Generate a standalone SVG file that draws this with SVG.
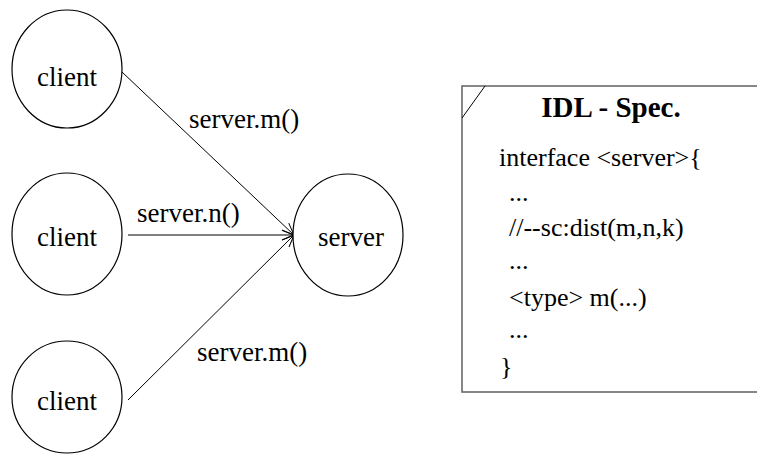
<svg xmlns="http://www.w3.org/2000/svg" width="757" height="460" viewBox="0 0 757 460">
  <style>
    .node { fill: #fff; stroke: #000; stroke-width: 1.2; }
    .lbl { font-size: 27px; }
    .conn { stroke: #000; stroke-width: 1; fill: none; marker-end: url(#arrow); }
    .spec { fill: #fff; stroke: #6a6a6a; stroke-width: 1.6; }
    .code { font-size: 26px; }
    .title { font-size: 29px; font-weight: bold; }
  </style>
  <defs>
    <marker id="arrow" markerWidth="14" markerHeight="12" refX="13" refY="6" orient="auto" markerUnits="userSpaceOnUse">
      <path d="M1,1 L13,6 L1,11" fill="none" stroke="#000" stroke-width="1"/>
    </marker>
  </defs>

  <g font-family="Liberation Serif, serif" fill="#000">
    <!-- connectors -->
    <g id="connectors">
      <line class="conn" x1="122" y1="72" x2="294" y2="235"/>
      <line class="conn" x1="128" y1="235" x2="294" y2="235"/>
      <line class="conn" x1="128" y1="400" x2="294" y2="235"/>
      <text class="lbl" x="189" y="128">server.m()</text>
      <text class="lbl" x="137" y="222">server.n()</text>
      <text class="lbl" x="197" y="361">server.m()</text>
    </g>

    <g id="client1">
      <ellipse class="node" cx="67" cy="69" rx="55" ry="59"/>
      <text class="lbl" x="67" y="86" text-anchor="middle">client</text>
    </g>
    <g id="client2">
      <ellipse class="node" cx="67" cy="234" rx="55" ry="61"/>
      <text class="lbl" x="67" y="246" text-anchor="middle">client</text>
    </g>
    <g id="client3">
      <ellipse class="node" cx="67" cy="397" rx="55" ry="56"/>
      <text class="lbl" x="67" y="410" text-anchor="middle">client</text>
    </g>
    <g id="server">
      <ellipse class="node" cx="348" cy="235" rx="55" ry="61"/>
      <text class="lbl" x="351" y="246" text-anchor="middle">server</text>
    </g>

    <g id="idl-spec">
      <rect class="spec" x="462" y="86" width="310" height="306"/>
      <line x1="462" y1="118" x2="485" y2="86" stroke="#000" stroke-width="1"/>
      <text class="title" x="611" y="117" text-anchor="middle">IDL - Spec.</text>
      <text class="code" x="499" y="166">interface &lt;server&gt;{</text>
      <text class="code" x="509" y="201">...</text>
      <text class="code" x="509" y="236">//--sc:dist(m,n,k)</text>
      <text class="code" x="509" y="269">...</text>
      <text class="code" x="509" y="306">&lt;type&gt; m(...)</text>
      <text class="code" x="509" y="338">...</text>
      <text class="code" x="500" y="375">}</text>
    </g>
  </g>
</svg>
